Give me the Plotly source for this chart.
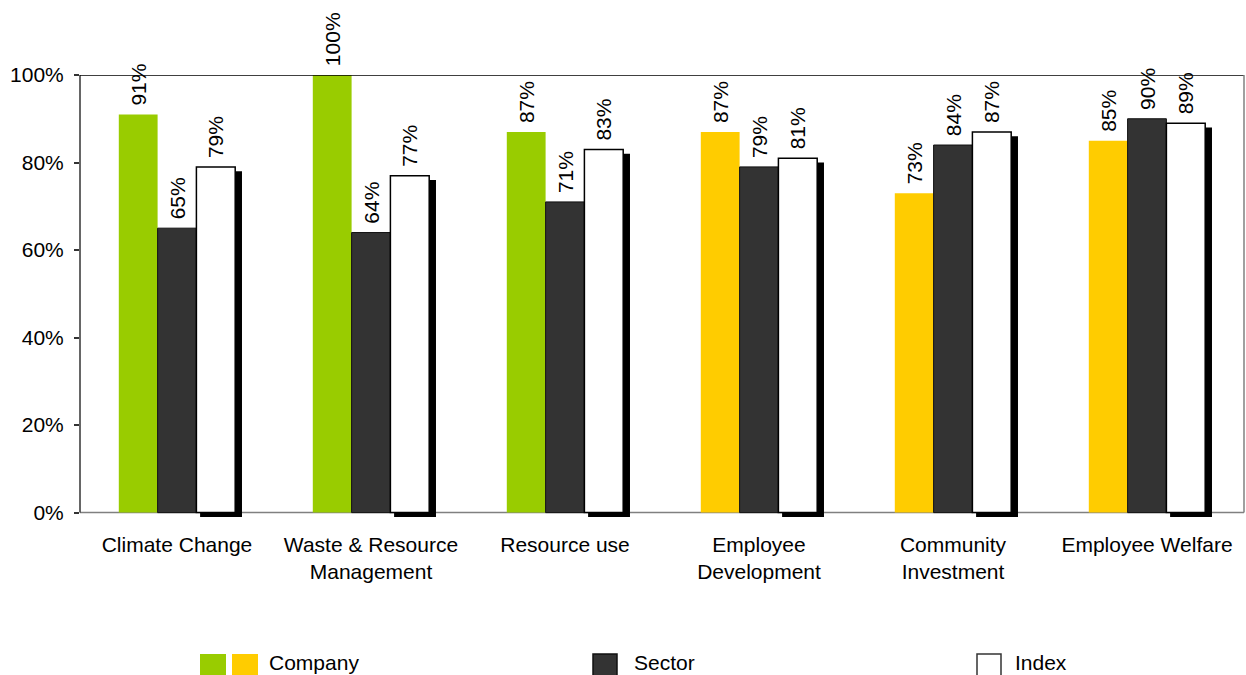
import plotly.graph_objects as go

# ---- data ----
categories = [
    "Climate Change",
    "Waste & Resource<br>Management",
    "Resource use",
    "Employee<br>Development",
    "Community<br>Investment",
    "Employee Welfare",
]
company = [0.91, 1.00, 0.87, 0.87, 0.73, 0.85]
sector = [0.65, 0.64, 0.71, 0.79, 0.84, 0.90]
index_vals = [0.79, 0.77, 0.83, 0.81, 0.87, 0.89]
company_colors = ["#99CC00", "#99CC00", "#99CC00", "#FFCC00", "#FFCC00", "#FFCC00"]
y_ticks = [0, 0.2, 0.4, 0.6, 0.8, 1.0]
y_tick_text = ["0%", "20%", "40%", "60%", "80%", "100%"]

FONT = "Liberation Sans, Arial, Helvetica, sans-serif"
FS = 21

W, H = 1246, 675
ML, MR, MT, MB = 80, 2, 75, 158
PW, PH = W - ML - MR, H - MT - MB
Y_MIN = -0.01  # a little room below zero so the index shadow can drop under the axis


def px_x(x):
    return (x - ML) / PW


def px_y(y):
    return (H - MB - y) / PH


label_font = dict(family=FONT, size=FS, color="#000000")
# non-breaking space keeps a small gap between each bar and its rotated label
value_template = "\u00a0%{y:.0%}"

fig = go.Figure()

fig.add_trace(go.Bar(
    name="Company", x=categories, y=company,
    offset=-0.3, width=0.2,
    marker=dict(color=company_colors, line=dict(width=0)),
    texttemplate=value_template, textposition="outside", textangle=-90,
    constraintext="none",
    textfont=label_font, cliponaxis=False, showlegend=False,
))
fig.add_trace(go.Bar(
    name="Sector", x=categories, y=sector,
    offset=-0.1, width=0.2,
    marker=dict(color="#333333", line=dict(color="#111111", width=1)),
    texttemplate=value_template, textposition="outside", textangle=-90,
    constraintext="none",
    textfont=label_font, cliponaxis=False, showlegend=False,
))
# drop shadow behind the index bars
fig.add_trace(go.Bar(
    name="Index shadow", x=categories, y=index_vals, base=Y_MIN,
    offset=0.119, width=0.216,
    marker=dict(color="#000000", line=dict(width=0)),
    showlegend=False, hoverinfo="skip",
))
fig.add_trace(go.Bar(
    name="Index", x=categories, y=index_vals,
    offset=0.1, width=0.2,
    marker=dict(color="#FFFFFF", line=dict(color="#000000", width=1.5)),
    texttemplate=value_template, textposition="outside", textangle=-90,
    constraintext="none",
    textfont=label_font, cliponaxis=False, showlegend=False,
))

shapes = [
    # frame of the plot area: zero line, left axis, top and right edges
    dict(type="line", xref="paper", yref="y", x0=0, x1=1, y0=0, y1=0,
         line=dict(color="#808080", width=1.5), layer="below"),
    dict(type="line", xref="paper", yref="y", x0=0, x1=0, y0=0, y1=1,
         line=dict(color="#333333", width=1.5)),
    dict(type="line", xref="paper", yref="y", x0=0, x1=1, y0=1, y1=1,
         line=dict(color="#000000", width=1.5)),
    dict(type="line", xref="paper", yref="y", x0=1, x1=1, y0=0, y1=1,
         line=dict(color="#808080", width=1.5)),
]

# legend swatches
swatches = [
    (200, 226, "#99CC00", None),
    (232, 258, "#FFCC00", None),
    (593, 617, "#333333", "#111111"),
    (977, 1001, "#FFFFFF", "#333333"),
]
for x0, x1, fill, edge in swatches:
    shapes.append(dict(
        type="rect", xref="paper", yref="paper",
        x0=px_x(x0), x1=px_x(x1), y0=px_y(654), y1=px_y(679),
        fillcolor=fill,
        line=dict(color=edge if edge else fill, width=1.5 if edge else 0),
    ))

annotations = []
for text, x in [("Company", 268), ("Sector", 633), ("Index", 1014)]:
    annotations.append(dict(
        text=text, xref="paper", yref="paper", x=px_x(x), y=px_y(675),
        xanchor="left", yanchor="bottom", showarrow=False, borderpad=0,
        font=label_font,
    ))

fig.update_layout(
    width=W, height=H,
    margin=dict(l=ML, r=MR, t=MT, b=MB, pad=0),
    paper_bgcolor="#FFFFFF", plot_bgcolor="#FFFFFF",
    barmode="overlay",
    font=dict(family=FONT, size=FS, color="#000000"),
    shapes=shapes, annotations=annotations,
    showlegend=False,
    xaxis=dict(
        type="category", categoryorder="array", categoryarray=categories,
        range=[-0.5, len(categories) - 0.5],
        showline=False, ticks="", showgrid=False, zeroline=False,
        tickfont=label_font, ticklabelstandoff=13,
    ),
    yaxis=dict(
        range=[Y_MIN, 1], tickvals=y_ticks, ticktext=y_tick_text,
        showline=False,
        ticks="outside", ticklen=5, tickcolor="#333333", tickwidth=1.5,
        showgrid=False, zeroline=False,
        tickfont=label_font, ticklabelstandoff=6,
    ),
)

fig.write_html("out.html")
